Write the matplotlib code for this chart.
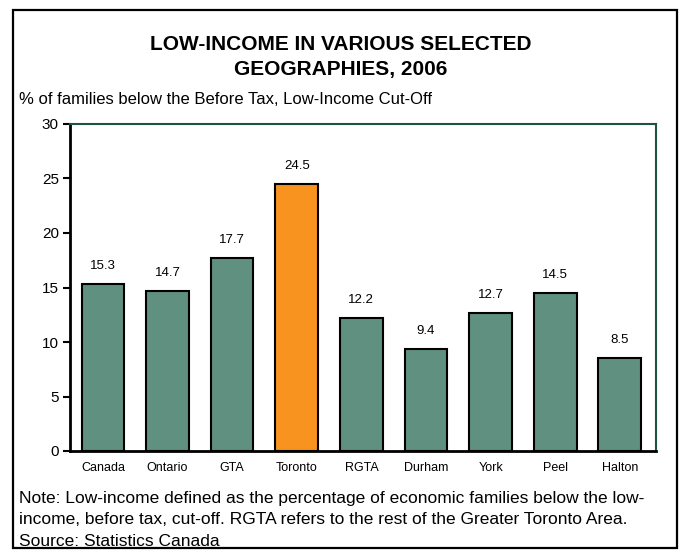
import matplotlib
matplotlib.use("Agg")
import matplotlib.pyplot as plt
from matplotlib.patches import Rectangle

plt.rcParams['font.family'] = ['Liberation Sans', 'DejaVu Sans']

# data
regions = ["Canada", "Ontario", "GTA", "Toronto", "RGTA", "Durham", "York", "Peel", "Halton"]
low_income = [15.3, 14.7, 17.7, 24.5, 12.2, 9.4, 12.7, 14.5, 8.5]
highlight = "Toronto"

GREEN = "#5F9080"
ORANGE = "#F7931E"
DARK_GREEN = "#1F5242"

fig = plt.figure(figsize=(6.81, 5.56), dpi=100)

# outer frame
fig.patches.append(Rectangle((13 / 681, 8 / 556), 664 / 681, 538 / 556,
                             transform=fig.transFigure, fill=False,
                             edgecolor="black", linewidth=1.6))

ax = fig.add_axes([70 / 681, 105 / 556, 586 / 681, 327 / 556])

x = range(len(regions))
colors = [ORANGE if r == highlight else GREEN for r in regions]
bars = ax.bar(x, low_income, width=0.66, color=colors, edgecolor="black", linewidth=1.5, zorder=2)

for xi, v in zip(x, low_income):
    ax.text(xi, v + 1.65, f"{v:.1f}", ha="center", va="center", fontsize=9.5)

ax.set_ylim(0, 30)
ax.set_xlim(-0.51, 8.56)
ax.set_yticks(range(0, 31, 5))
ax.set_xticks(list(x))
ax.set_xticklabels(regions, fontsize=9)
ax.tick_params(axis="x", length=0, pad=8)
ax.tick_params(axis="y", length=5, width=1.5, labelsize=11, pad=3)

for s in ["left", "bottom"]:
    ax.spines[s].set_linewidth(2)
    ax.spines[s].set_color("black")
for s in ["top", "right"]:
    ax.spines[s].set_linewidth(1.5)
    ax.spines[s].set_color(DARK_GREEN)

fig.text(341 / 681, 1 - 45 / 556, "LOW-INCOME IN VARIOUS SELECTED", ha="center", va="center",
         fontsize=15, fontweight="bold")
fig.text(341 / 681, 1 - 70 / 556, "GEOGRAPHIES, 2006", ha="center", va="center",
         fontsize=15, fontweight="bold")
fig.text(19 / 681, 1 - 99 / 556, "% of families below the Before Tax, Low-Income Cut-Off",
         ha="left", va="center", fontsize=12)

note_lines = [
    "Note: Low-income defined as the percentage of economic families below the low-",
    "income, before tax, cut-off. RGTA refers to the rest of the Greater Toronto Area.",
    "Source: Statistics Canada",
]
for i, line in enumerate(note_lines):
    fig.text(19 / 681, 1 - (498 + 21.5 * i) / 556, line, ha="left", va="center", fontsize=12.5)

fig.savefig("out.png", dpi=100)
